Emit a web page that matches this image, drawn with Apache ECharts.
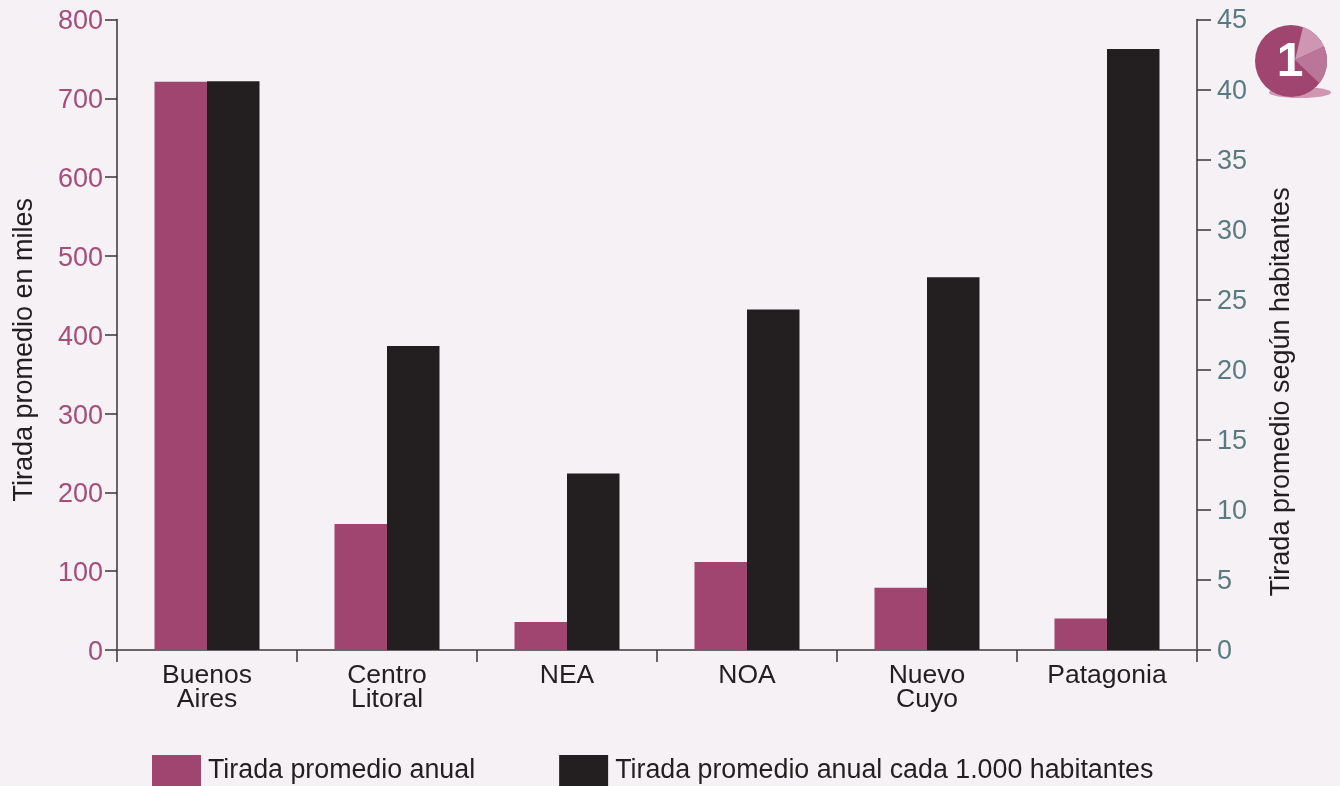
<!DOCTYPE html>
<html><head><meta charset="utf-8">
<style>html,body{margin:0;padding:0;background:#f6f1f4;overflow:hidden}#c{width:1340px;height:786px}</style>
<script src="https://cdn.jsdelivr.net/npm/echarts@6/dist/echarts.min.js"></script>
</head><body><div id="c"></div>
<script>
const categories = ['Buenos\nAires','Centro\nLitoral','NEA','NOA','Nuevo\nCuyo','Patagonia'];
const tiradaAnual = [721,160,35.5,111.5,79,40];
const tiradaPorHabitantes = [40.6,21.7,12.6,24.3,26.6,42.9];
const seriesNames = ['Tirada promedio anual','Tirada promedio anual cada 1.000 habitantes'];
const leftAxisName = 'Tirada promedio en miles';
const rightAxisName = 'Tirada promedio según habitantes';

const FONT = '"Liberation Sans", Arial, sans-serif';
const PINK = '#a0456f', BLACK = '#231f20';

// decorative badge wedges, built along the circle's arc
function wedge(vx, vy, cx, cy, r, a0, a1) {
  const pts = [[vx, vy]];
  for (let i = 0; i <= 24; i++) {
    const a = (a0 + (a1 - a0) * i / 24) * Math.PI / 180;
    pts.push([cx + r * Math.cos(a), cy + r * Math.sin(a)]);
  }
  return pts;
}

const chart = echarts.init(document.getElementById('c'), null, {renderer:'canvas'});
chart.setOption({
  animation:false,
  backgroundColor:'#f6f1f4',
  textStyle:{fontFamily:FONT},
  grid:{left:117,right:143,top:19.5,height:630.5,containLabel:false,outerBoundsMode:'none'},
  legend:{
    left:152, top:755, padding:0, itemWidth:49, itemHeight:31, itemGap:84,
    icon:'rect',
    data:seriesNames,
    selectedMode:false,
    textStyle:{fontFamily:FONT,fontSize:26.8,color:BLACK,padding:[0,0,0,2]}
  },
  xAxis:{
    type:'category', data:categories,
    axisLine:{lineStyle:{color:'#6b6567',width:2}},
    axisTick:{show:true,alignWithLabel:false,length:12,lineStyle:{color:'#3a3536',width:1.5}},
    axisLabel:{color:BLACK,fontFamily:FONT,fontSize:26.5,lineHeight:24,margin:14,interval:0}
  },
  yAxis:[{
    type:'value',min:0,max:800,interval:100,
    name:leftAxisName,nameLocation:'middle',nameRotate:90,nameGap:79,
    nameTextStyle:{color:BLACK,fontFamily:FONT,fontSize:27,padding:[0,30,0,0]},
    axisLine:{show:true,lineStyle:{color:'#3a3536',width:1.5}},
    axisTick:{show:true,length:12,lineStyle:{color:'#3a3536',width:1.5}},
    axisLabel:{color:'#a64d7b',fontFamily:FONT,fontSize:27,lineHeight:27,margin:14,verticalAlign:'top',padding:[-11,0,0,0]},
    splitLine:{show:false}
  },{
    type:'value',min:0,max:45,interval:5,position:'right',
    name:rightAxisName,nameLocation:'middle',nameRotate:90,nameGap:71,
    nameTextStyle:{color:BLACK,fontFamily:FONT,fontSize:27,padding:[0,114,0,0]},
    axisLine:{show:true,lineStyle:{color:'#3a3536',width:1.5}},
    axisTick:{show:true,length:14,lineStyle:{color:'#3a3536',width:1.5}},
    axisLabel:{color:'#5a7a83',fontFamily:FONT,fontSize:27,lineHeight:27,margin:20,verticalAlign:'top',padding:[-12,0,0,0]},
    splitLine:{show:false}
  }],
  series:[
    {name:seriesNames[0],type:'bar',yAxisIndex:0,data:tiradaAnual,barWidth:52.5,barGap:0,itemStyle:{color:PINK}},
    {name:seriesNames[1],type:'bar',yAxisIndex:1,data:tiradaPorHabitantes,barWidth:52.5,barGap:0,itemStyle:{color:BLACK}}
  ],
  graphic:[
    {type:'ellipse',silent:true,z:10,shape:{cx:1300,cy:92.5,rx:31,ry:5.5},style:{fill:'#d096b2'}},
    {type:'circle',silent:true,z:11,shape:{cx:1291,cy:61,r:36},style:{fill:PINK}},
    {type:'polygon',silent:true,z:12,shape:{points:wedge(1295,60,1291,61,36,-70.5,-23.6)},style:{fill:'#cd97b3'}},
    {type:'polygon',silent:true,z:12,shape:{points:wedge(1295,60,1291,61,36,-23.6,38)},style:{fill:'#ba7698'}},
    {type:'text',silent:true,z:13,x:1290,y:63,style:{text:'1',fill:'#fff',font:'bold 48px "Liberation Sans", sans-serif',align:'center',verticalAlign:'middle'}}
  ]
});
</script></body></html>
